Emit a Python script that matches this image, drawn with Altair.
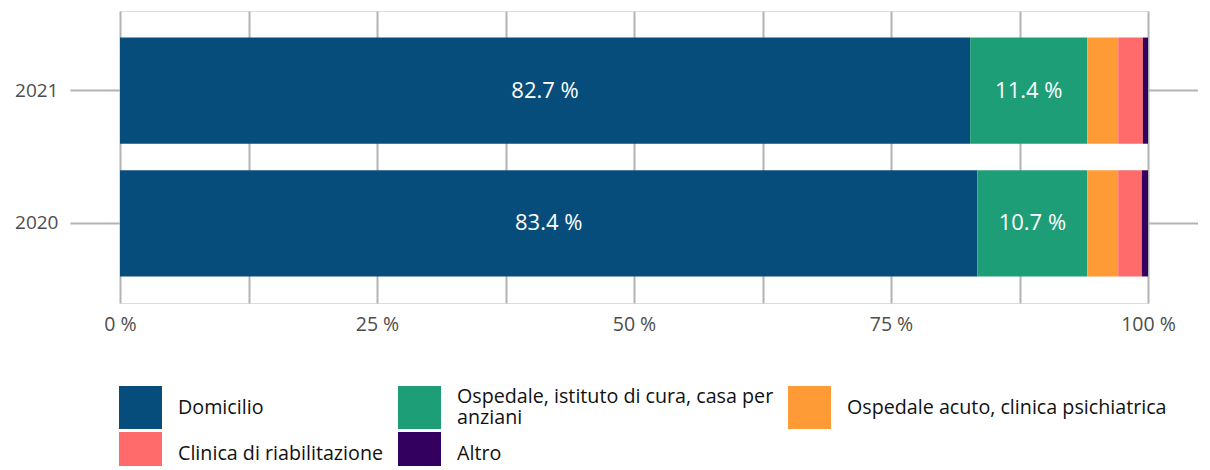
import altair as alt
import pandas as pd

years = ["2021", "2020"]
categories = [
    "Domicilio",
    "Ospedale, istituto di cura, casa per anziani",
    "Ospedale acuto, clinica psichiatrica",
    "Clinica di riabilitazione",
    "Altro",
]
colors = ["#064d7b", "#1e9e77", "#ff9b36", "#ff6b6b", "#33005f"]
values_2021 = [82.7, 11.4, 3.0, 2.4, 0.5]
values_2020 = [83.4, 10.7, 3.0, 2.3, 0.6]
x_ticks = [0, 12.5, 25, 37.5, 50, 62.5, 75, 87.5, 100]

rows = []
for yr, vals in zip(years, [values_2021, values_2020]):
    for i, (c, v) in enumerate(zip(categories, vals)):
        rows.append({"year": yr, "cat": c, "value": v, "order": i})
df = pd.DataFrame(rows)

FONT = "Open Sans"
GRID = "#b3b3b3"
LONG = categories[1]

base = alt.Chart(df).transform_stack(
    stack="value", groupby=["year"], as_=["x0", "x1"],
    sort=[alt.SortField("order", order="ascending")]
).transform_calculate(mid="(datum.x0 + datum.x1) / 2")

yscale = alt.Scale(domain=years, paddingInner=0.2, paddingOuter=0.2)

bars = base.mark_bar().encode(
    x=alt.X("x0:Q", scale=alt.Scale(domain=[0, 100], nice=False),
            axis=alt.Axis(values=x_ticks, grid=True, gridColor=GRID, gridWidth=2,
                          ticks=False, domain=False, labelPadding=12, labelFlush=False,
                          labelExpr="datum.value % 25 == 0 ? datum.value + ' %' : ''",
                          labelFontSize=19.5, labelColor="#4d4d4d", labelFont=FONT),
            title=None),
    x2="x1:Q",
    y=alt.Y("year:N", scale=yscale, sort=years, title=None,
            axis=alt.Axis(tickSize=50, tickColor=GRID, tickWidth=2, domain=False,
                          labelPadding=12, labelFontSize=19, labelColor="#4d4d4d",
                          labelFont=FONT, grid=False)),
    color=alt.Color("cat:N", scale=alt.Scale(domain=categories, range=colors),
                    legend=alt.Legend(
                        title=None, orient="none", legendX=-1, legendY=375,
                        direction="horizontal",
                        columns=3, columnPadding=14, rowPadding=3,
                        symbolType="square", symbolSize=1849, symbolStrokeWidth=0,
                        symbolOpacity=1, labelOffset=16, labelFontSize=19.7,
                        labelFont=FONT, labelColor="#111111", labelLimit=500,
                        labelBaseline=alt.ExprRef(
                            expr=f"datum.label == '{LONG}' ? 'line-bottom' : 'middle'"),
                        labelExpr=f"datum.label == '{LONG}' ? ['Ospedale, istituto di cura, casa per', 'anziani'] : datum.label")),
    order=alt.Order("order:Q"),
)

labels = base.transform_filter("datum.value > 5").transform_calculate(
    lbl="format(datum.value, '.1f') + ' %'"
).mark_text(
    color="white", fontSize=22, font=FONT, baseline="middle", align="center"
).encode(
    x=alt.X("mid:Q"),
    y=alt.Y("year:N", scale=yscale, sort=years, title=None,
            axis=alt.Axis(orient="right", labels=False, tickSize=50, tickColor=GRID,
                          tickWidth=2, domain=False, grid=False)),
    text="lbl:N",
)

chart = alt.layer(bars, labels).resolve_axis(y="independent").properties(
    width=1028, height=292,
    autosize=alt.AutoSizeParams(type="none"),
    padding={"left": 112, "top": 3, "right": 50, "bottom": 163},
).configure_view(stroke=None).configure(font=FONT)

chart.save("out.html", embed_options={"renderer": "svg", "actions": False})
